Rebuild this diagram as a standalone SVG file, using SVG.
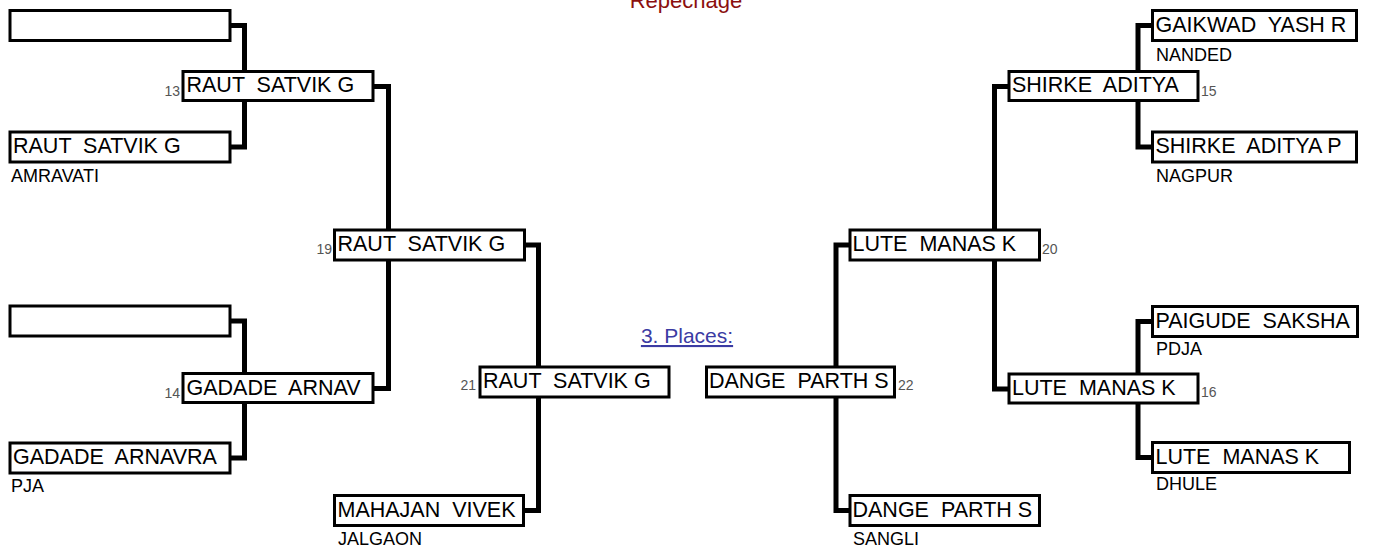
<svg xmlns="http://www.w3.org/2000/svg" width="1373" height="547" viewBox="0 0 1373 547" xml:space="preserve">
<style>
text{white-space:pre}
.box{fill:#fff;stroke:#000;stroke-width:3}
.name{font-family:"Liberation Sans",Arial,sans-serif;font-size:21.5px;fill:#000}
.city{font-family:"Liberation Sans",Arial,sans-serif;font-size:18px;fill:#000}
.num{font-family:"Liberation Sans",Arial,sans-serif;font-size:14px;fill:#555}
.conn{fill:none;stroke:#000;stroke-width:5;stroke-linejoin:miter;stroke-linecap:butt}
</style>
<rect width="1373" height="547" fill="#fff"/>
<text x="686" y="8" text-anchor="middle" style="font-family:'Liberation Sans',Arial,sans-serif;font-size:22px;fill:#8b1010">Repechage</text>
<text x="687" y="343" text-anchor="middle" text-decoration="underline" style="font-family:'Liberation Sans',Arial,sans-serif;font-size:21px;fill:#3b3ba3">3. Places:</text>
<g id="connectors">
<path class="conn" d="M230 25.5H244.5V72"/>
<path class="conn" d="M244.5 101V147H230"/>
<path class="conn" d="M373 86.5H388.5V388.5H373"/>
<path class="conn" d="M230 321H244.5V374"/>
<path class="conn" d="M244.5 403V458H230"/>
<path class="conn" d="M524 245H538.5V367"/>
<path class="conn" d="M538.5 397V510.5H523"/>
<path class="conn" d="M850 245H836V367"/>
<path class="conn" d="M836 397V510.5H850"/>
<path class="conn" d="M1009 86.5H994.5V389H1009"/>
<path class="conn" d="M1138 72V25.5H1152"/>
<path class="conn" d="M1138 101V147H1152"/>
<path class="conn" d="M1138 374V321.5H1152"/>
<path class="conn" d="M1138 404V457.5H1152"/>
</g>
<g id="n-l1"><rect class="box" x="10" y="10.5" width="220" height="30"/></g>
<g id="n-l2"><rect class="box" x="10" y="132" width="220" height="30"/><text class="name" x="13" y="153">RAUT  SATVIK G</text><text class="city" x="11" y="182">AMRAVATI</text></g>
<g id="n-13"><rect class="box" x="183" y="71.5" width="190" height="29"/><text class="name" x="186.5" y="92">RAUT  SATVIK G</text><text class="num" x="180" y="96" text-anchor="end">13</text></g>
<g id="n-l3"><rect class="box" x="10" y="306" width="220" height="30"/></g>
<g id="n-l4"><rect class="box" x="10" y="443" width="220" height="30"/><text class="name" x="13" y="464">GADADE  ARNAVRA</text><text class="city" x="11" y="492">PJA</text></g>
<g id="n-14"><rect class="box" x="183" y="373.5" width="190" height="29"/><text class="name" x="186.5" y="395">GADADE  ARNAV</text><text class="num" x="180" y="398" text-anchor="end">14</text></g>
<g id="n-19"><rect class="box" x="334.5" y="230" width="190" height="30"/><text class="name" x="337.5" y="251">RAUT  SATVIK G</text><text class="num" x="332" y="254" text-anchor="end">19</text></g>
<g id="n-21"><rect class="box" x="480" y="367" width="189" height="30"/><text class="name" x="483" y="388">RAUT  SATVIK G</text><text class="num" x="476" y="390" text-anchor="end">21</text></g>
<g id="n-mahajan"><rect class="box" x="334.5" y="495.5" width="189" height="30"/><text class="name" x="337.5" y="516.5">MAHAJAN  VIVEK</text><text class="city" x="338" y="545">JALGAON</text></g>
<g id="n-22"><rect class="box" x="706.5" y="367" width="188" height="30"/><text class="name" x="709" y="388">DANGE  PARTH S</text><text class="num" x="898" y="390">22</text></g>
<g id="n-dange"><rect class="box" x="850" y="495.5" width="189.5" height="30"/><text class="name" x="852.5" y="516.5">DANGE  PARTH S</text><text class="city" x="853" y="545">SANGLI</text></g>
<g id="n-20"><rect class="box" x="850" y="230" width="189.5" height="30"/><text class="name" x="852.5" y="251">LUTE  MANAS K</text><text class="num" x="1042" y="254">20</text></g>
<g id="n-15"><rect class="box" x="1009" y="71.5" width="189" height="29"/><text class="name" x="1012" y="92">SHIRKE  ADITYA</text><text class="num" x="1201" y="96">15</text></g>
<g id="n-gaikwad"><rect class="box" x="1152.5" y="10.5" width="204" height="30"/><text class="name" x="1155.5" y="31.5">GAIKWAD  YASH R</text><text class="city" x="1156" y="61">NANDED</text></g>
<g id="n-shirke"><rect class="box" x="1152.5" y="132" width="204" height="30"/><text class="name" x="1155.5" y="153">SHIRKE  ADITYA P</text><text class="city" x="1156" y="182">NAGPUR</text></g>
<g id="n-16"><rect class="box" x="1009" y="374" width="189" height="29"/><text class="name" x="1012" y="395">LUTE  MANAS K</text><text class="num" x="1201" y="397">16</text></g>
<g id="n-paigude"><rect class="box" x="1152.5" y="306.5" width="205" height="30"/><text class="name" x="1155.5" y="327.5">PAIGUDE  SAKSHA</text><text class="city" x="1156" y="355">PDJA</text></g>
<g id="n-lute"><rect class="box" x="1152.5" y="442.5" width="197" height="30"/><text class="name" x="1155.5" y="463.5">LUTE  MANAS K</text><text class="city" x="1156" y="490">DHULE</text></g>
</svg>
